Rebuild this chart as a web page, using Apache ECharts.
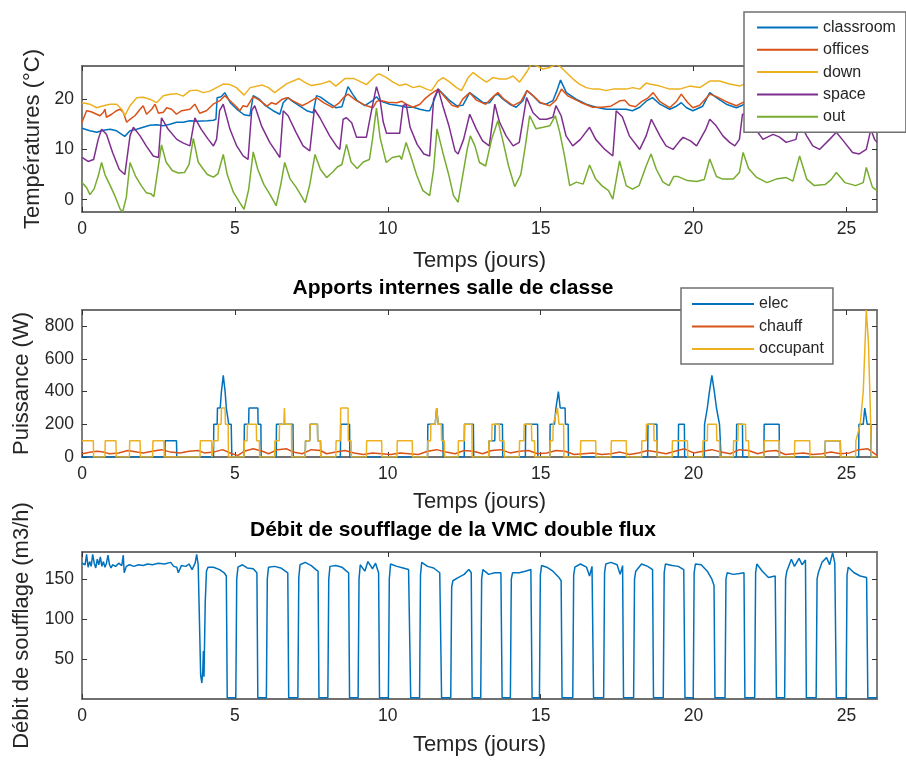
<!DOCTYPE html>
<html><head><meta charset="utf-8">
<script src="https://cdn.jsdelivr.net/npm/echarts@6/dist/echarts.min.js"></script>
<style>html,body{margin:0;padding:0;background:#fff}#c{width:906px;height:760px}</style>
</head><body><div id="c"></div>
<script>
// Tick positions
const dayTicks = [0, 5, 10, 15, 20, 25];
const tempTicks = [0, 10, 20];
const powerTicks = [0, 200, 400, 600, 800];
const flowTicks = [50, 100, 150];

const tempNames = ['classroom', 'offices', 'down', 'space', 'out'];
const gainNames = ['elec', 'chauff', 'occupant'];

// Temperatures, [jour, °C]
const classroom = [[0,14.2],[0.26,13.7],[0.48,13.4],[0.7,13.8],[0.92,14],[1.13,13.7],[1.3,13],[1.4,12.6],[1.57,13.7],[1.79,14],[2.0,14.4],[2.22,14.8],[2.44,14.9],[2.66,14.7],[2.88,15],[3.09,15.4],[3.31,15.4],[3.53,15.7],[3.75,15.6],[4.1,15.7],[4.3,15.8],[4.38,16],[4.42,20.3],[4.55,20.5],[4.67,21.3],[4.85,19.3],[5.1,17.8],[5.3,16.9],[5.49,16.7],[5.6,20.7],[5.8,20],[6.0,18.7],[6.25,17.7],[6.47,17],[6.58,19.3],[6.74,20.3],[6.9,19.5],[7.1,18.7],[7.35,17.7],[7.56,17.3],[7.67,20.7],[7.8,20.4],[8.05,19.3],[8.3,18.3],[8.5,18.5],[8.7,22.5],[8.85,21],[9.0,19.7],[9.25,18.7],[9.5,19.7],[9.63,20.5],[9.74,19.7],[10.07,19],[10.39,18.7],[10.6,18.4],[10.83,18.4],[11.05,18],[11.27,17.7],[11.37,17.7],[11.48,19.3],[11.65,22],[11.81,21],[12.03,19.7],[12.25,18.7],[12.46,18.8],[12.68,21.3],[12.9,20.3],[13.12,19.3],[13.33,19.3],[13.5,20.7],[13.6,21],[13.77,20],[13.99,19],[14.2,18.4],[14.42,19.7],[14.55,21.7],[14.75,20.7],[14.97,19.3],[15.18,19],[15.4,19.7],[15.52,21.5],[15.65,23.8],[15.84,21.3],[16.16,20],[16.49,19],[16.82,18.4],[17.14,18],[17.47,18],[17.79,18],[18.0,17.7],[18.24,18.4],[18.45,19.6],[18.66,20.3],[18.9,19],[19.22,18],[19.44,18.6],[19.6,19.3],[19.77,18.3],[19.98,17.7],[20.3,18.6],[20.53,21.3],[20.75,20.3],[21.07,19],[21.4,18.3],[21.6,18.8],[21.8,19.5],[22.1,18.6],[22.4,18.2],[22.6,20],[22.9,19],[23.3,18.4],[23.5,20.5],[23.8,19.2],[24.2,18.5],[24.6,20.2],[24.9,19],[25.3,18.4],[25.6,20],[26,19]];
const offices = [[0,15.4],[0.15,17.7],[0.3,17.5],[0.48,17],[0.59,16.7],[0.7,17.4],[0.75,18],[0.8,16.4],[0.97,17],[1.13,17.7],[1.24,18],[1.35,17.4],[1.46,15.4],[1.57,16],[1.73,16.7],[1.9,18],[2.0,18.7],[2.11,17],[2.28,18],[2.39,19],[2.5,17.2],[2.66,17.4],[2.77,18.3],[2.93,18],[3.09,17],[3.26,17.7],[3.53,18],[3.69,19],[3.85,17.2],[4.07,17.7],[4.29,19],[4.51,19.7],[4.67,20.7],[4.84,19.7],[5.05,18.5],[5.16,17.7],[5.27,18.7],[5.4,18.5],[5.6,20.5],[5.8,19.8],[6.05,18.6],[6.2,19.3],[6.35,19],[6.55,20],[6.7,20.3],[6.95,19.5],[7.2,18.7],[7.4,19.3],[7.67,20.3],[7.9,19.3],[8.2,18.3],[8.4,19.2],[8.55,20.3],[8.7,21],[8.95,19.8],[9.25,18.8],[9.52,18.3],[9.63,19.5],[9.74,19.8],[10.0,19.4],[10.3,19.3],[10.45,19.6],[10.6,19],[10.83,18.4],[11.05,19],[11.2,20],[11.4,21],[11.65,22],[11.9,20.2],[12.1,18.8],[12.3,18.4],[12.45,20],[12.68,21.3],[12.9,19.8],[13.2,19],[13.45,20.5],[13.6,21.3],[13.8,20],[14.1,18.7],[14.35,19.5],[14.55,21.7],[14.75,20.7],[15.0,19.3],[15.3,18.7],[15.5,19.8],[15.68,22],[15.9,20.6],[16.3,19.4],[16.7,18.4],[17.0,18.4],[17.3,18.6],[17.6,19.7],[17.75,19.8],[17.9,18.8],[18.1,18.5],[18.3,19.5],[18.5,20.2],[18.68,21.3],[18.9,19.5],[19.22,18.3],[19.45,19.6],[19.6,21],[19.8,19.4],[19.98,18.3],[20.2,18.8],[20.53,21],[20.75,20.5],[21.07,19.5],[21.4,18.7],[21.6,19.3],[21.8,19.8],[22.1,18.9],[22.4,18.5],[22.6,20],[22.9,19.2],[23.3,18.7],[23.5,20.3],[23.8,19.4],[24.2,18.8],[24.6,20],[24.9,19.2],[25.3,18.7],[25.6,19.8],[26,19.2]];
const down = [[0,19.3],[0.26,19],[0.48,18.3],[0.7,18.7],[0.92,19],[1.13,19],[1.3,18],[1.4,16.7],[1.57,18.7],[1.79,20.3],[2.0,20.4],[2.22,20],[2.44,19.3],[2.66,20.7],[2.88,21],[3.09,21.1],[3.31,20.6],[3.53,21.7],[3.75,21.8],[3.97,21.3],[4.18,21.6],[4.4,22.3],[4.62,23],[4.84,22.9],[5.05,22.3],[5.3,20.8],[5.5,22.3],[5.9,22.8],[6.1,22.3],[6.3,21.3],[6.7,23.1],[7.1,24.1],[7.3,23.3],[7.5,22.7],[7.8,23],[8.1,23.6],[8.3,22.6],[8.6,24.1],[8.9,24.1],[9.1,23.5],[9.3,22.9],[9.65,24.9],[9.74,25],[9.96,24.3],[10.17,23.4],[10.39,22.7],[10.6,23],[10.83,22.3],[11.05,22.6],[11.27,22],[11.43,21.7],[11.64,23.6],[11.81,24.3],[12.03,23.4],[12.25,22.3],[12.41,21.7],[12.63,24.3],[12.79,25.3],[13.01,24.3],[13.23,23.4],[13.44,24.3],[13.66,24],[13.88,24],[14.1,24.6],[14.31,23.4],[14.53,25.3],[14.7,27],[14.86,26.7],[15.07,26],[15.29,26.3],[15.51,27],[15.67,26.3],[15.84,25.3],[16.06,24],[16.27,23],[16.49,22.3],[16.71,22],[16.93,22],[17.14,21.7],[17.36,22],[17.58,22],[17.8,22],[18.01,22.3],[18.24,22],[18.45,23.2],[18.57,23],[18.9,22.6],[19.22,22],[19.55,22],[19.87,22.6],[20.2,22.3],[20.53,23.6],[20.85,23.6],[21.18,23],[21.51,22.6],[21.8,23.4],[22.2,23],[22.6,23.8],[23.0,23.2],[23.5,24],[24.0,23.4],[24.5,24.2],[25.0,23.5],[25.5,24],[26,23.6]];
const space = [[0,8.4],[0.2,7.6],[0.38,8],[0.53,12],[0.64,14],[0.8,13],[1.0,9.4],[1.22,6],[1.4,5],[1.57,12.7],[1.68,14.4],[1.9,12.7],[2.1,10.7],[2.33,8.7],[2.5,8.4],[2.6,16.3],[2.82,14],[3.1,12],[3.3,11.3],[3.53,10.7],[3.69,16.3],[3.9,14],[4.13,12],[4.3,10.7],[4.4,12],[4.5,17.7],[4.62,19],[4.84,14],[5.06,10.7],[5.27,8.7],[5.43,8],[5.55,17.7],[5.65,18.7],[5.87,14.7],[6.14,11.4],[6.36,9.4],[6.47,8.4],[6.58,17.7],[6.74,16.7],[7.0,13.4],[7.23,10.7],[7.45,9.7],[7.6,18],[7.78,16.3],[8.1,12.7],[8.32,10.7],[8.43,10],[8.54,16],[8.65,16.3],[8.82,15.3],[8.98,12.4],[9.3,12.4],[9.5,18.7],[9.63,22.5],[9.74,20.2],[9.85,15.5],[9.96,13.2],[10.2,13.2],[10.39,13.2],[10.5,18.7],[10.6,19],[10.73,14.4],[10.96,11],[11.18,9.1],[11.37,8.7],[11.5,20],[11.65,22],[11.8,18.7],[12.0,14.7],[12.2,9.7],[12.3,9.1],[12.48,12],[12.68,17],[12.9,14],[13.1,11.7],[13.32,10.7],[13.5,19],[13.65,15.5],[13.87,12.7],[14.1,10.7],[14.3,11.4],[14.54,20.3],[14.75,17.3],[14.97,16],[15.2,16],[15.4,16.4],[15.5,18.7],[15.67,16.7],[15.83,12.7],[16.05,10.7],[16.3,12],[16.6,14.4],[16.8,12],[17.1,10],[17.36,8.7],[17.47,17.7],[17.67,16.5],[17.9,12.7],[18.24,10],[18.45,12.7],[18.62,16],[18.9,12.7],[19.1,10.7],[19.33,10],[19.55,11.7],[19.66,12.4],[19.9,11.7],[20.1,10.7],[20.4,14],[20.53,16],[20.74,14.7],[20.96,12.7],[21.18,11.4],[21.35,10.7],[21.5,12],[21.6,17],[21.75,17],[21.95,14.7],[22.27,12],[22.6,13],[22.8,12.5],[23.03,11.4],[23.35,12],[23.47,15.4],[23.7,12.7],[23.9,10.7],[24.12,10],[24.45,12],[24.67,13.4],[24.9,11.7],[25.2,9.4],[25.42,9.1],[25.65,10],[25.8,14],[25.92,12],[26,11.4]];
const out = [[0,3.4],[0.15,2.4],[0.26,1.0],[0.4,2.2],[0.53,4.7],[0.64,7.4],[0.75,5],[0.9,3.1],[1.08,0.7],[1.25,-1.9],[1.33,-2.4],[1.45,0.5],[1.57,7.4],[1.75,4.7],[1.95,2.7],[2.1,1.4],[2.25,1.2],[2.35,0.6],[2.6,10.9],[2.75,7.5],[2.95,5.8],[3.15,5.3],[3.35,5.4],[3.5,7],[3.64,12.2],[3.8,7.5],[3.95,6.2],[4.1,5],[4.3,4.5],[4.45,5.2],[4.62,9.0],[4.75,5],[4.95,1.5],[5.15,-0.5],[5.3,-1.9],[5.45,2],[5.6,9.5],[5.75,6],[5.95,3],[6.15,1],[6.35,-1.2],[6.5,3],[6.63,7.4],[6.8,4.2],[7.0,2.5],[7.15,1],[7.3,-0.6],[7.45,3],[7.62,9.0],[7.8,6],[8.0,4.4],[8.2,5.5],[8.35,6.5],[8.5,7],[8.65,11],[8.8,7.5],[9.0,6.2],[9.2,7.5],[9.4,8],[9.5,12],[9.63,18.2],[9.75,12.3],[9.95,7.4],[10.15,8.4],[10.39,8.7],[10.45,8],[10.6,11.4],[10.75,8.7],[10.95,4.8],[11.15,1.8],[11.37,0.8],[11.5,6.1],[11.61,14.1],[11.8,9.4],[12.0,4.8],[12.15,0.8],[12.3,-0.5],[12.45,4.8],[12.6,10.1],[12.7,12.7],[12.85,10.7],[13.0,7.4],[13.2,6.7],[13.4,12.1],[13.6,15.7],[13.75,12.1],[13.95,6.7],[14.15,2.6],[14.35,5],[14.5,10.7],[14.64,16.7],[14.85,14.1],[15.08,14.4],[15.3,14.7],[15.48,16.7],[15.62,13.5],[15.78,8.7],[15.95,2.8],[16.17,3.5],[16.39,3.1],[16.6,6.9],[16.8,4.1],[17.0,2.8],[17.22,1.8],[17.36,0.1],[17.58,7.7],[17.8,2.8],[18.0,2.1],[18.22,2.8],[18.45,6.7],[18.61,9.1],[18.78,6.1],[19.0,3.5],[19.2,2.8],[19.35,4.6],[19.5,4.6],[19.8,3.8],[20.1,3.6],[20.35,4.0],[20.53,8.1],[20.75,4.6],[20.95,4.1],[21.3,4.1],[21.5,5.4],[21.62,9.4],[21.8,6.2],[22.05,4.5],[22.4,3.4],[22.7,4.1],[23.03,4.4],[23.25,3.7],[23.47,8.7],[23.7,4.1],[23.95,2.8],[24.3,3.0],[24.5,4.0],[24.67,5.4],[24.95,3.4],[25.3,2.8],[25.55,3.4],[25.65,6.4],[25.85,2.5],[26,1.8]];

// Apports internes, [jour, W]
const elec = [[0,0],[2.71,0],[2.72,100],[3.09,100],[3.1,0],[4.3,0],[4.31,200],[4.42,200],[4.43,300],[4.52,300],[4.56,400],[4.62,500],[4.68,400],[4.72,300],[4.78,300],[4.8,200],[4.88,200],[4.9,0],[5.3,0],[5.31,200],[5.45,200],[5.46,300],[5.75,300],[5.76,200],[5.85,200],[5.86,0],[6.35,0],[6.36,200],[6.9,200],[6.91,0],[7.3,0],[7.31,100],[7.45,100],[7.46,200],[7.7,200],[7.71,100],[7.8,100],[7.81,0],[8.45,0],[8.46,200],[8.75,200],[8.76,0],[11.3,0],[11.31,200],[11.55,200],[11.6,300],[11.65,200],[11.8,200],[11.81,0],[12.5,0],[12.51,200],[12.8,200],[12.81,0],[13.3,0],[13.31,100],[13.5,100],[13.51,200],[13.75,200],[13.76,0],[14.5,0],[14.51,200],[14.9,200],[14.91,0],[15.3,0],[15.31,200],[15.45,200],[15.5,300],[15.58,400],[15.64,300],[15.8,300],[15.81,200],[15.9,200],[15.91,0],[18.5,0],[18.51,200],[18.8,200],[18.81,0],[19.5,0],[19.51,200],[19.7,200],[19.71,0],[20.35,0],[20.36,200],[20.45,300],[20.52,400],[20.6,500],[20.68,400],[20.75,300],[20.85,200],[20.9,0],[21.4,0],[21.41,200],[21.6,200],[21.61,0],[22.3,0],[22.31,200],[22.8,200],[22.81,0],[24.3,0],[24.31,100],[24.8,100],[24.81,0],[25.4,0],[25.41,200],[25.55,200],[25.6,300],[25.68,200],[25.8,200],[25.81,0],[26,0]];
const chauff = [[0,20],[0.3,30],[0.5,35],[0.7,30],[0.9,20],[1.2,25],[1.5,40],[1.8,30],[2.0,25],[2.3,35],[2.6,45],[2.9,30],[3.2,25],[3.5,35],[3.8,40],[4.0,25],[4.3,30],[4.6,45],[4.9,20],[5.1,10],[5.3,35],[5.6,50],[5.9,35],[6.1,20],[6.4,45],[6.7,50],[6.9,30],[7.2,20],[7.5,45],[7.8,40],[8.0,20],[8.3,30],[8.6,40],[8.9,25],[9.2,15],[9.5,25],[9.8,20],[10.1,15],[10.4,25],[10.7,20],[11.0,15],[11.3,35],[11.6,45],[11.9,30],[12.2,20],[12.5,40],[12.8,35],[13.1,20],[13.4,40],[13.7,45],[14.0,25],[14.3,35],[14.6,40],[14.9,20],[15.2,25],[15.5,40],[15.8,35],[16.1,15],[16.4,20],[16.7,25],[17.0,15],[17.3,20],[17.6,30],[17.9,15],[18.2,25],[18.5,40],[18.8,30],[19.1,20],[19.4,35],[19.7,50],[20.0,25],[20.3,35],[20.6,45],[20.9,30],[21.2,20],[21.5,45],[21.8,40],[22.1,20],[22.4,35],[22.7,40],[23.0,15],[23.3,20],[23.6,25],[23.9,15],[24.2,20],[24.5,30],[24.8,20],[25.1,25],[25.4,45],[25.7,50],[26,10]];
const occupant = [[0,100],[0.37,100],[0.38,0],[0.75,0],[0.76,100],[1.11,100],[1.12,0],[1.55,0],[1.56,100],[1.9,100],[1.91,0],[2.31,0],[2.32,100],[2.68,100],[2.69,0],[3.86,0],[3.87,100],[4.24,100],[4.25,0],[4.3,0],[4.31,100],[4.45,100],[4.46,200],[4.55,200],[4.56,300],[4.68,300],[4.69,200],[4.78,200],[4.79,0],[5.3,0],[5.31,100],[5.4,100],[5.41,200],[5.7,200],[5.71,100],[5.8,100],[5.81,0],[6.3,0],[6.31,100],[6.45,100],[6.46,200],[6.6,200],[6.62,300],[6.64,200],[6.85,200],[6.86,0],[7.3,0],[7.31,100],[7.45,100],[7.46,200],[7.7,200],[7.71,100],[7.8,100],[7.81,0],[8.3,0],[8.31,100],[8.45,100],[8.46,300],[8.7,300],[8.71,100],[8.8,100],[8.81,0],[9.3,0],[9.31,100],[9.8,100],[9.81,0],[10.3,0],[10.31,100],[10.8,100],[10.81,0],[11.3,0],[11.31,100],[11.4,100],[11.41,200],[11.55,200],[11.6,300],[11.65,200],[11.75,200],[11.76,100],[11.85,100],[11.86,0],[12.3,0],[12.31,100],[12.5,100],[12.51,200],[12.75,200],[12.76,0],[13.3,0],[13.31,100],[13.4,100],[13.41,200],[13.65,200],[13.66,100],[13.8,100],[13.81,0],[14.3,0],[14.31,100],[14.45,100],[14.46,200],[14.7,200],[14.71,100],[14.8,100],[14.81,0],[15.3,0],[15.31,100],[15.4,100],[15.41,200],[15.55,300],[15.6,200],[15.75,200],[15.76,0],[16.3,0],[16.31,100],[16.8,100],[16.81,0],[17.3,0],[17.31,100],[17.8,100],[17.81,0],[18.3,0],[18.31,100],[18.45,100],[18.46,200],[18.7,200],[18.71,100],[18.8,100],[18.81,0],[19.3,0],[19.31,100],[19.8,100],[19.81,0],[20.3,0],[20.31,100],[20.45,100],[20.46,200],[20.75,200],[20.76,100],[20.85,100],[20.86,0],[21.3,0],[21.31,100],[21.45,100],[21.46,200],[21.7,200],[21.71,100],[21.8,100],[21.81,0],[22.3,0],[22.31,100],[22.8,100],[22.81,0],[23.3,0],[23.31,100],[23.8,100],[23.81,0],[24.3,0],[24.31,100],[24.8,100],[24.81,0],[25.3,0],[25.31,100],[25.45,200],[25.55,400],[25.65,900],[25.72,700],[25.78,300],[25.82,0],[26,0]];

// Débit de soufflage, [jour, m3/h]
const debit = [[0,170],[0.05,172],[0.1,168],[0.15,181],[0.2,165],[0.25,172],[0.3,166],[0.35,181],[0.4,170],[0.45,164],[0.5,175],[0.55,168],[0.6,178],[0.65,166],[0.7,172],[0.75,165],[0.8,170],[0.85,180],[0.9,168],[0.95,164],[1.0,168],[1.1,166],[1.2,170],[1.3,167],[1.35,180],[1.38,158],[1.45,166],[1.55,168],[1.7,166],[1.85,168],[2.0,167],[2.15,169],[2.3,168],[2.5,170],[2.7,169],[2.9,171],[3.0,166],[3.1,165],[3.15,158],[3.25,167],[3.4,166],[3.5,169],[3.6,162],[3.7,170],[3.75,181],[3.8,168],[3.84,100],[3.88,30],[3.92,20],[3.95,35],[3.97,60],[3.99,28],[4.03,120],[4.07,160],[4.12,165],[4.3,165],[4.5,162],[4.65,158],[4.72,154],[4.75,1.5],
[5.03,1.5],[5.06,150],[5.1,165],[5.25,168],[5.4,164],[5.6,163],[5.72,158],[5.75,1.5],
[6.03,1.5],[6.06,150],[6.1,165],[6.3,166],[6.5,164],[6.65,160],[6.73,158],[6.76,1.5],
[7.06,1.5],[7.09,152],[7.13,168],[7.3,171],[7.5,167],[7.65,162],[7.72,160],[7.75,1.5],
[8.04,1.5],[8.07,150],[8.11,166],[8.3,167],[8.5,165],[8.65,160],[8.72,158],[8.75,1.5],
[9.03,1.5],[9.06,150],[9.1,168],[9.25,160],[9.35,172],[9.5,163],[9.6,170],[9.7,158],[9.73,1.5],
[10.02,1.5],[10.05,150],[10.09,169],[10.3,166],[10.5,164],[10.68,162],[10.73,160],[10.75,1.5],
[11.04,1.5],[11.07,155],[11.11,171],[11.3,166],[11.5,164],[11.7,158],[11.76,1.5],
[12.06,1.5],[12.09,140],[12.13,148],[12.3,152],[12.5,156],[12.65,162],[12.73,158],[12.76,1.5],
[13.04,1.5],[13.07,150],[13.11,162],[13.3,156],[13.5,158],[13.7,158],[13.74,1.5],
[14.01,1.5],[14.04,150],[14.08,158],[14.3,158],[14.5,160],[14.68,162],[14.72,1.5],
[14.96,1.5],[14.99,155],[15.03,167],[15.2,165],[15.4,160],[15.6,152],[15.67,148],[15.7,1.5],
[16.05,1.5],[16.08,155],[16.12,165],[16.3,169],[16.5,165],[16.6,154],[16.68,166],[16.73,1.5],
[17.06,1.5],[17.09,158],[17.13,169],[17.3,171],[17.5,168],[17.6,156],[17.68,167],[17.71,1.5],
[18.04,1.5],[18.07,150],[18.11,160],[18.3,169],[18.5,166],[18.66,162],[18.69,1.5],
[19.01,1.5],[19.04,158],[19.08,169],[19.3,167],[19.5,166],[19.68,162],[19.72,1.5],
[19.99,1.5],[20.02,158],[20.06,169],[20.25,168],[20.45,160],[20.6,150],[20.67,142],[20.7,1.5],
[21.03,1.5],[21.06,150],[21.1,158],[21.3,156],[21.5,157],[21.65,158],[21.68,1.5],
[22.0,1.5],[22.03,158],[22.07,169],[22.25,160],[22.45,152],[22.67,154],[22.71,1.5],
[22.98,1.5],[23.01,150],[23.05,160],[23.2,175],[23.3,166],[23.45,176],[23.55,168],[23.66,174],[23.69,1.5],
[24.01,1.5],[24.04,150],[24.08,158],[24.2,171],[24.35,177],[24.45,168],[24.55,183],[24.62,170],[24.67,1.5],
[24.99,1.5],[25.02,155],[25.06,165],[25.25,158],[25.45,154],[25.66,152],[25.7,1.5],[26,1.5]];

const FONT = '"Liberation Sans", Arial, Helvetica, sans-serif';
const AXC = '#707070';
const TXT = '#262626';
const C = ['#0072BD', '#D95319', '#EDB120', '#7E2F8E', '#77AC30'];

const grids = [
  { left: 82, top: 66, width: 795, height: 146 },
  { left: 82, top: 310, width: 795, height: 147 },
  { left: 82, top: 552, width: 795, height: 147 }
];

function xPair(gi, nameGap) {
  const base = {
    type: 'value', gridIndex: gi, min: 0, max: 26,
    axisLine: { show: true, onZero: false, lineStyle: { color: AXC, width: 1.8 } },
    axisTick: { show: true, inside: true, length: 5, customValues: dayTicks, lineStyle: { color: '#333', width: 1 } },
    splitLine: { show: false }
  };
  return [
    Object.assign({}, base, {
      position: 'bottom',
      axisLabel: { customValues: dayTicks, color: TXT, fontSize: 17.5, fontFamily: FONT, margin: 8 },
      name: 'Temps (jours)', nameLocation: 'middle', nameGap: nameGap,
      nameTextStyle: { color: TXT, fontSize: 22, fontFamily: FONT }
    }),
    Object.assign({}, base, { position: 'top', axisLabel: { show: false } })
  ];
}

function yPair(gi, min, max, ticks, name, nameGap) {
  const base = {
    type: 'value', gridIndex: gi, min: min, max: max,
    axisLine: { show: true, onZero: false, lineStyle: { color: AXC, width: 1.8 } },
    axisTick: { show: true, inside: true, length: 5, customValues: ticks, lineStyle: { color: '#333', width: 1 } },
    splitLine: { show: false }
  };
  return [
    Object.assign({}, base, {
      position: 'left',
      axisLabel: { customValues: ticks, color: TXT, fontSize: 17.5, fontFamily: FONT, margin: 8 },
      name: name, nameLocation: 'middle', nameGap: nameGap,
      nameTextStyle: { color: TXT, fontSize: 22, fontFamily: FONT }
    }),
    Object.assign({}, base, { position: 'right', axisLabel: { show: false } })
  ];
}

const xAxis = [].concat(xPair(0, 38), xPair(1, 34), xPair(2, 35));
const yAxis = [].concat(
  yPair(0, -2.45, 26.6, tempTicks, 'Températures (°C)', 35),
  yPair(1, 0, 900, powerTicks, 'Puissance (W)', 49),
  yPair(2, 0, 184, flowTicks, 'Débit de soufflage (m3/h)', 49)
);

function line(name, data, color, xi, yi) {
  return {
    name: name, type: 'line', data: data, xAxisIndex: xi, yAxisIndex: yi,
    showSymbol: false, symbol: 'none', clip: true,
    lineStyle: { color: color, width: 1.5 }, itemStyle: { color: color },
    emphasis: { disabled: true }
  };
}

const tempData = [classroom, offices, down, space, out];
const gainData = [elec, chauff, occupant];
const series = [];
tempNames.forEach((n, i) => series.push(line(n, tempData[i], C[i], 0, 0)));
gainNames.forEach((n, i) => series.push(line(n, gainData[i], C[i], 2, 2)));
series.push(line('debit', debit, C[0], 4, 4));

const legendBase = {
  orient: 'vertical', icon: 'rect', itemHeight: 2,
  backgroundColor: '#fff', borderColor: AXC, borderWidth: 1.5, borderRadius: 0,
  textStyle: { color: TXT, fontSize: 16, fontFamily: FONT },
  selectedMode: false, z: 10
};

const option = {
  animation: false,
  backgroundColor: '#fff',
  grid: grids,
  xAxis: xAxis,
  yAxis: yAxis,
  legend: [
    Object.assign({}, legendBase, { data: tempNames, left: 744, top: 12, itemWidth: 61, itemGap: 6.3, padding: [7.5, 10, 7.5, 13] }),
    Object.assign({}, legendBase, { data: gainNames, left: 681, top: 288, itemWidth: 62, itemGap: 6.5, padding: [8, 9, 7, 11] })
  ],
  graphic: [
    { type: 'text', left: 'center', top: 278, style: { text: 'Apports internes salle de classe', font: 'bold 21px ' + FONT, fill: '#000' } },
    { type: 'text', left: 'center', top: 520, style: { text: 'Débit de soufflage de la VMC double flux', font: 'bold 21px ' + FONT, fill: '#000' } }
  ],
  series: series
};

const chart = echarts.init(document.getElementById('c'), null, { renderer: 'canvas' });
chart.setOption(option);
</script>
</body></html>
